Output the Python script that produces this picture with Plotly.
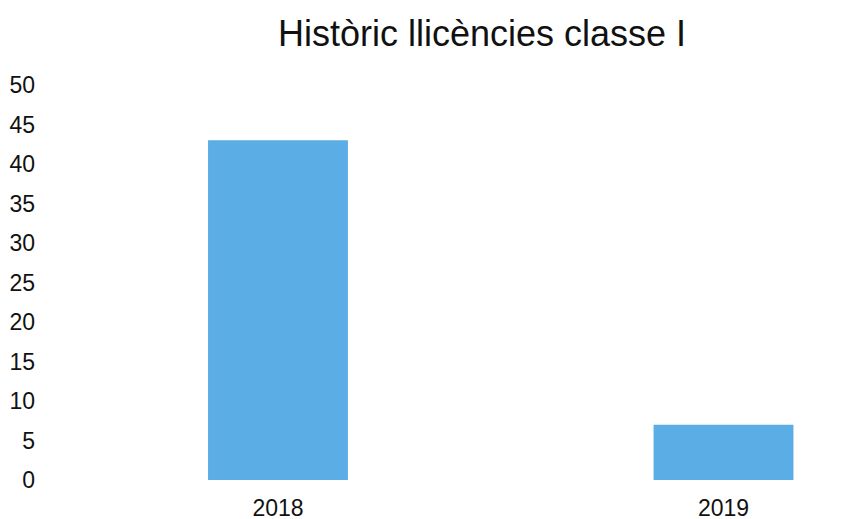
import plotly.graph_objects as go

years = ["2018", "2019"]
licences = [43, 7]
y_ticks = [0, 5, 10, 15, 20, 25, 30, 35, 40, 45, 50]

fig = go.Figure(go.Bar(x=years, y=licences, width=0.314,
                       marker=dict(color="#5BADE5", line=dict(width=0))))

fig.update_layout(
    width=839, height=511,
    margin=dict(l=37, r=7, t=77, b=39),
    paper_bgcolor="white", plot_bgcolor="white",
    font=dict(family="Liberation Sans, Arial, sans-serif", color="#111111"),
    title=dict(text="Històric llicències classe I", x=474/839, xref="container",
               xanchor="center", y=1-25/511, yanchor="middle",
               font=dict(size=36, color="#111111")),
    showlegend=False,
)
fig.update_xaxes(type="category", range=[-0.523, 1.2615], showgrid=False,
                 showline=False, zeroline=False, ticks="", automargin=False,
                 tickfont=dict(size=23), ticklabelstandoff=12)
fig.update_yaxes(range=[0, 50], tickvals=y_ticks, showgrid=False,
                 showline=False, zeroline=False, ticks="", automargin=False,
                 tickfont=dict(size=23), ticklabelstandoff=9)

fig.write_html("out.html")
